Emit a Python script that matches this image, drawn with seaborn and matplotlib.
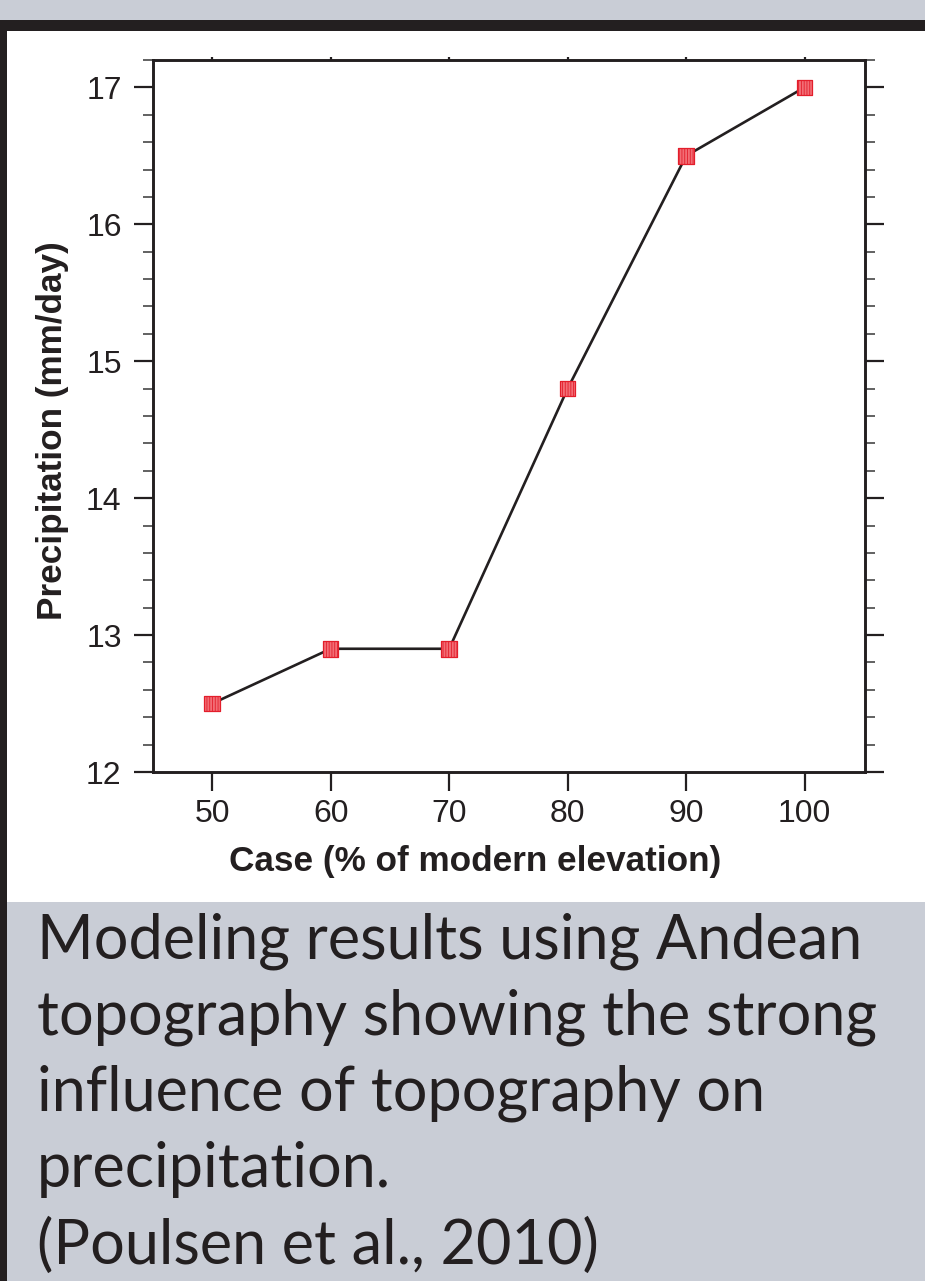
import matplotlib
matplotlib.use('Agg')
import matplotlib.pyplot as plt
from matplotlib import ticker
from matplotlib.patches import Rectangle
import seaborn as sns
import pandas as pd

# 数据
case_pct = [50, 60, 70, 80, 90, 100]
precip = [12.5, 12.9, 12.9, 14.8, 16.5, 17.0]
caption_lines = [
    "Modeling results using Andean",
    "topography showing the strong",
    "influence of topography on",
    "precipitation.",
    "(Poulsen et al., 2010)",
]

BG = '#c9cdd6'
INK = '#231f20'

sns.set_theme(style='ticks')
plt.rcParams['font.family'] = ['Liberation Sans', 'DejaVu Sans']
plt.rcParams['hatch.linewidth'] = 0.6

df = pd.DataFrame({'case': case_pct, 'precip': precip})

W, H = 925, 1281
fig = plt.figure(figsize=(W / 100, H / 100), dpi=100, facecolor=BG)

# region 背景框
def fx(px): return px / W
def fy(py): return 1 - py / H
fig.patches.append(Rectangle((0, fy(31)), 1, fy(20) - fy(31), transform=fig.transFigure,
                             facecolor=INK, edgecolor='none', zorder=-5))
fig.patches.append(Rectangle((0, 0), fx(7), fy(20), transform=fig.transFigure,
                             facecolor=INK, edgecolor='none', zorder=-5))
fig.patches.append(Rectangle((fx(7), fy(902)), 1 - fx(7), fy(31) - fy(902), transform=fig.transFigure,
                             facecolor='white', edgecolor='none', zorder=-5))
# endregion

ax = fig.add_axes([fx(153), fy(772), fx(865) - fx(153), fy(60) - fy(772)])
ax.set_facecolor('white')

sns.lineplot(data=df, x='case', y='precip', ax=ax, color=INK, linewidth=1.9, zorder=2)
sns.scatterplot(data=df, x='case', y='precip', ax=ax, marker='s', s=125,
                facecolor='#f26d75', edgecolor='#e31e2b', linewidth=0.9,
                hatch='||||||', zorder=3)

ax.set_xlim(45, 105.1)
ax.set_ylim(12, 17.2)
ax.xaxis.set_major_locator(ticker.MultipleLocator(10))
ax.yaxis.set_major_locator(ticker.MultipleLocator(1))
ax.yaxis.set_minor_locator(ticker.MultipleLocator(0.2))

for sp in ax.spines.values():
    sp.set_visible(True)
    sp.set_linewidth(2.1)
    sp.set_color(INK)

ax.tick_params(axis='y', which='major', left=True, right=True, direction='out',
               length=13.5, width=1.6, color=INK, labelsize=23, pad=9, labelcolor=INK)
ax.tick_params(axis='y', which='minor', left=True, right=True, direction='out',
               length=7, width=1.3, color='#555555')
ax.tick_params(axis='x', which='major', bottom=True, top=True, direction='out',
               length=13.5, width=1.6, color=INK, labelsize=23, pad=6, labelcolor=INK)
# 顶部短刻度
for t in ax.xaxis.get_major_ticks():
    t.tick2line.set_markersize(2.5)

ax.set_xlabel('Case (% of modern elevation)', fontsize=25.3, fontweight='bold', color=INK)
ax.set_ylabel('Precipitation (mm/day)', fontsize=25.3, fontweight='bold', color=INK)
ax.xaxis.set_label_coords(0.452, -0.103)
ax.yaxis.set_label_coords(-0.118, 0.48)

# 说明文字
for i, line in enumerate(caption_lines):
    fig.text(fx(37), fy(958 + i * 76.5), line, fontsize=44, color=INK,
             family=['Lato', 'DejaVu Sans'], va='baseline', ha='left')

fig.savefig('out.png', dpi=100, facecolor=BG)
plt.close(fig)
